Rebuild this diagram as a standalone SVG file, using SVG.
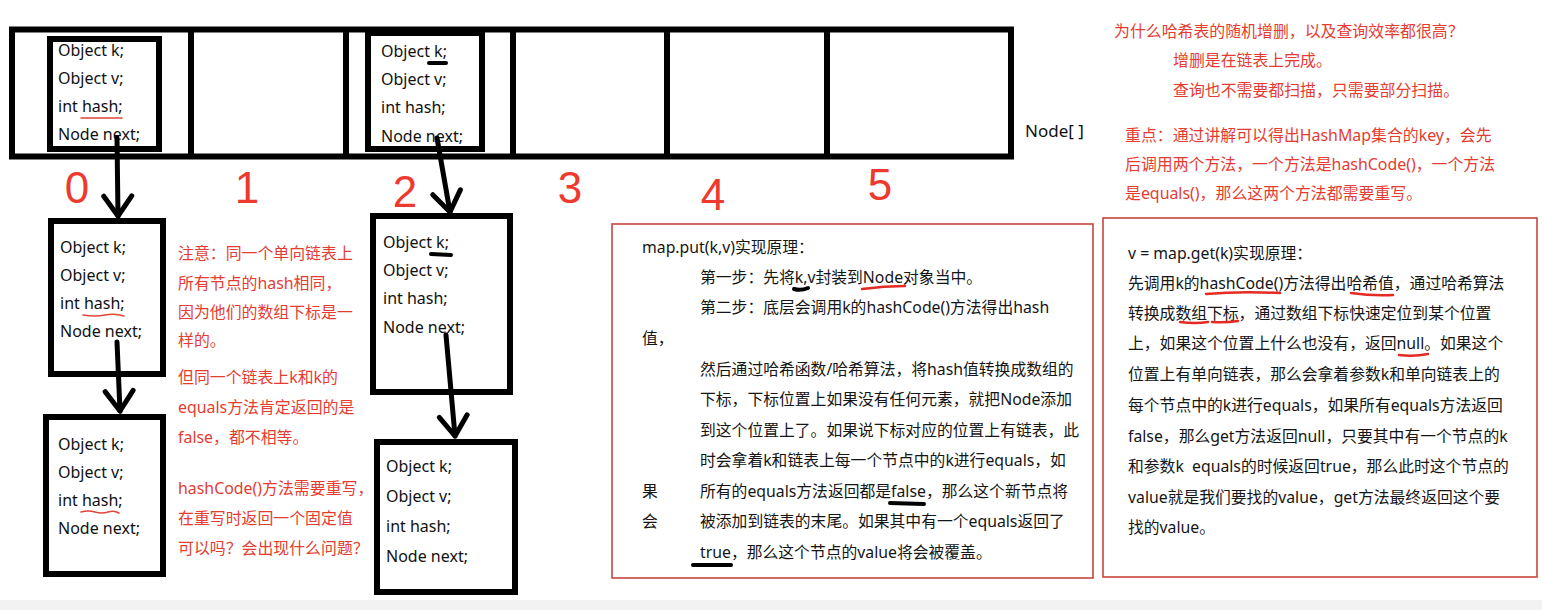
<svg xmlns="http://www.w3.org/2000/svg" width="1542" height="610" viewBox="0 0 1542 610">
<style>
.box{fill:none;stroke:#000;stroke-width:6}
.cell{fill:none;stroke:#000;stroke-width:6}
.code{font-family:"Noto Sans","Liberation Sans",sans-serif;font-size:16px;fill:#111}
.idx{font-family:"Liberation Sans","Noto Sans",sans-serif;font-size:44px;fill:#ee3a2e;text-anchor:middle}
.note{font-family:"Noto Sans","Noto Sans CJK SC",sans-serif;font-size:15.9px;fill:#e53c31}
.txt{font-family:"Noto Sans","Noto Sans CJK SC",sans-serif;font-size:15.8px;fill:#151515}
.cjk{font-family:"Noto Sans CJK SC",sans-serif}
.frame{fill:#fff;stroke:#c9453d;stroke-width:1.6}
.conn{fill:none;stroke:#000;stroke-width:5;stroke-linecap:round}
.ul-red{fill:none;stroke:#e32b22;stroke-width:2.5;stroke-linecap:round}
.ul-red-thin{fill:none;stroke:#e0463c;stroke-width:1.6;stroke-linecap:round}
.ul-blk{fill:none;stroke:#000;stroke-width:4;stroke-linecap:round}
</style>
<defs>
<marker id="chev" markerUnits="userSpaceOnUse" viewBox="-24 -18 28 36" refX="0" refY="0" markerWidth="28" markerHeight="36" orient="auto">
<path d="M-20,-14 L0,0 L-20,14" fill="none" stroke="#000" stroke-width="5" stroke-linecap="round" stroke-linejoin="round"/>
</marker>
</defs>
<rect x="0" y="0" width="1542" height="610" fill="#fff"/>
<rect x="0" y="600" width="1542" height="10" fill="#f2f2f2"/>

<g id="node-array">
<rect class="cell" x="12" y="29.5" width="999" height="127"/>
<line class="cell" x1="191" y1="29.5" x2="191" y2="156.5"/>
<line class="cell" x1="346" y1="29.5" x2="346" y2="156.5"/>
<line class="cell" x1="513" y1="29.5" x2="513" y2="156.5"/>
<line class="cell" x1="667" y1="29.5" x2="667" y2="156.5"/>
<line class="cell" x1="827" y1="29.5" x2="827" y2="156.5"/>
<text class="code" x="1025" y="137" style="font-size:17px">Node[ ]</text>
</g>

<g id="indices">
<text class="idx" x="77" y="203">0</text>
<text class="idx" x="247" y="203">1</text>
<text class="idx" x="405" y="207">2</text>
<text class="idx" x="570" y="203">3</text>
<text class="idx" x="713" y="210">4</text>
<text class="idx" x="880" y="200">5</text>
</g>

<g id="node-cell0">
<rect class="box" x="50" y="39" width="109" height="110"/>
<text class="code" x="58" y="56">Object k;</text>
<text class="code" x="58" y="84">Object v;</text>
<text class="code" x="58" y="112">int hash;</text>
<text class="code" x="58" y="140">Node next;</text>
<path class="ul-red-thin" d="M81,118 L122,118"/>
</g>

<g id="node-cell2">
<rect class="box" x="368" y="33" width="114" height="116"/>
<text class="code" x="381" y="57">Object k;</text>
<text class="code" x="381" y="85">Object v;</text>
<text class="code" x="381" y="113">int hash;</text>
<text class="code" x="381" y="142">Node next;</text>
<path class="ul-blk" d="M429,63 L446,63"/>
</g>

<g id="node-chain0-1">
<rect class="box" x="51" y="221" width="112" height="153"/>
<text class="code" x="60" y="253">Object k;</text>
<text class="code" x="60" y="281">Object v;</text>
<text class="code" x="60" y="309">int hash;</text>
<text class="code" x="60" y="337">Node next;</text>
<path class="ul-red-thin" d="M83,315 Q95,317 105,315 T124,316"/>
</g>

<g id="node-chain0-2">
<rect class="box" x="46" y="417" width="117" height="157"/>
<text class="code" x="58" y="450">Object k;</text>
<text class="code" x="58" y="478">Object v;</text>
<text class="code" x="58" y="506">int hash;</text>
<text class="code" x="58" y="534">Node next;</text>
<path class="ul-red-thin" d="M81,512 Q88,510 95,512 T108,512 T119,513"/>
</g>

<g id="node-chain2-1">
<rect class="box" x="373" y="216" width="137" height="176"/>
<text class="code" x="383" y="248">Object k;</text>
<text class="code" x="383" y="276">Object v;</text>
<text class="code" x="383" y="304">int hash;</text>
<text class="code" x="383" y="333">Node next;</text>
<path class="ul-blk" d="M431,254 L451,255"/>
</g>

<g id="node-chain2-2">
<rect class="box" x="377" y="442" width="138" height="150"/>
<text class="code" x="386" y="472">Object k;</text>
<text class="code" x="386" y="502">Object v;</text>
<text class="code" x="386" y="532">int hash;</text>
<text class="code" x="386" y="562">Node next;</text>
</g>

<g id="connectors">
<path class="conn" d="M117,138 L118,216" marker-end="url(#chev)"/>
<path class="conn" d="M117,342 L120,411" marker-end="url(#chev)"/>
<path class="conn" d="M437,138 L450,212" marker-end="url(#chev)"/>
<path class="conn" d="M446,335 L455,436" marker-end="url(#chev)"/>
</g>

<g id="note-chain">
<text class="note" x="178" y="259">注意：同一个单向链表上</text>
<text class="note" x="178" y="289">所有节点的hash相同，</text>
<text class="note" x="178" y="318">因为他们的数组下标是一</text>
<text class="note" x="178" y="346">样的。</text>
<text class="note" x="178" y="383">但同一个链表上k和k的</text>
<text class="note" x="178" y="413">equals方法肯定返回的是</text>
<text class="note" x="178" y="443">false，都不相等。</text>
<text class="note" x="178" y="494">hashCode()方法需要重写，</text>
<text class="note" x="178" y="524">在重写时返回一个固定值</text>
<text class="note" x="178" y="554">可以吗<tspan class="cjk">？</tspan>会出现什么问题<tspan class="cjk">？</tspan></text>
</g>

<g id="note-top">
<text class="note" x="1114" y="37">为什么哈希表的随机增删，以及查询效率都很高<tspan class="cjk">？</tspan></text>
<text class="note" x="1173" y="66">增删是在链表上完成。</text>
<text class="note" x="1173" y="96">查询也不需要都扫描，只需要部分扫描。</text>
<text class="note" x="1125" y="141">重点：通过讲解可以得出HashMap集合的key，会先</text>
<text class="note" x="1125" y="170">后调用两个方法，一个方法是hashCode()，一个方法</text>
<text class="note" x="1125" y="199">是equals()，那么这两个方法都需要重写。</text>
</g>

<g id="node-put">
<rect class="frame" x="612" y="224" width="481" height="354"/>
<text class="txt" x="642" y="253">map.put(k,v)实现原理：</text>
<text class="txt" x="700" y="283">第一步：先将k,v封装到Node对象当中。</text>
<text class="txt" x="700" y="313">第二步：底层会调用k的hashCode()方法得出hash</text>
<text class="txt" x="642" y="344">值，</text>
<text class="txt" x="700" y="375">然后通过哈希函数/哈希算法，将hash值转换成数组的</text>
<text class="txt" x="700" y="405">下标，下标位置上如果没有任何元素，就把Node添加</text>
<text class="txt" x="700" y="436">到这个位置上了。如果说下标对应的位置上有链表，此</text>
<text class="txt" x="700" y="466">时会拿着k和链表上每一个节点中的k进行equals，如</text>
<text class="txt" x="642" y="497">果</text>
<text class="txt" x="700" y="497">所有的equals方法返回都是false，那么这个新节点将</text>
<text class="txt" x="642" y="527">会</text>
<text class="txt" x="700" y="527">被添加到链表的末尾。如果其中有一个equals返回了</text>
<text class="txt" x="700" y="558">true，那么这个节点的value将会被覆盖。</text>
<path class="ul-blk" d="M794,289 Q801,291 808,288"/>
<path class="ul-red" d="M862,289 Q884,286 905,286"/>
<path class="ul-blk" d="M890,503 L924,504"/>
<path class="ul-blk" d="M693,565 L731,565"/>
</g>

<g id="node-get">
<rect class="frame" x="1103" y="218" width="434" height="359"/>
<text class="txt" x="1128" y="259">v = map.get(k)实现原理：</text>
<text class="txt" x="1128" y="289">先调用k的hashCode()方法得出哈希值，通过哈希算法</text>
<text class="txt" x="1128" y="319">转换成数组下标，通过数组下标快速定位到某个位置</text>
<text class="txt" x="1128" y="349">上，如果这个位置上什么也没有，返回null。如果这个</text>
<text class="txt" x="1128" y="380">位置上有单向链表，那么会拿着参数k和单向链表上的</text>
<text class="txt" x="1128" y="411">每个节点中的k进行equals，如果所有equals方法返回</text>
<text class="txt" x="1128" y="442">false，那么get方法返回null，只要其中有一个节点的k</text>
<text class="txt" x="1128" y="472">和参数k&#160; equals的时候返回true，那么此时这个节点的</text>
<text class="txt" x="1128" y="503">value就是我们要找的value，get方法最终返回这个要</text>
<text class="txt" x="1128" y="533">找的value。</text>
<path class="ul-red" d="M1206,294 Q1240,291 1280,293"/>
<path class="ul-red" d="M1351,293 Q1372,296 1393,295"/>
<path class="ul-red" d="M1180,322 Q1195,324 1208,322"/>
<path class="ul-red" d="M1212,322 Q1225,323 1238,321"/>
<path class="ul-red" d="M1399,355 Q1414,357 1428,354"/>
</g>
</svg>
